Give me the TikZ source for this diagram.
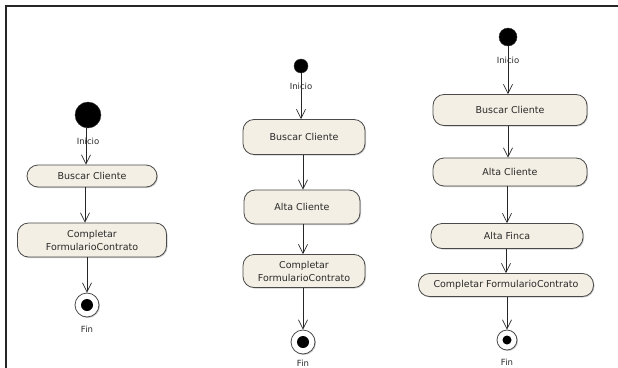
\documentclass[tikz,border=0pt]{standalone}
\usepackage{fontspec}
\setmainfont{DejaVu Sans}
\usetikzlibrary{arrows.meta,shadows}
\definecolor{boxfill}{HTML}{F3EFE4}
\definecolor{boxline}{HTML}{4A4A4A}
\definecolor{txt}{HTML}{2A2A2A}
\tikzset{
  act/.style={draw=boxline, fill=boxfill, line width=0.8pt, rounded corners=11pt,
    text=txt, font=\fontsize{9.5}{13}\selectfont, align=center, inner sep=0pt,
    drop shadow={shadow xshift=1pt, shadow yshift=-1pt, fill=gray!55, opacity=0.7}},
  startnode/.style={circle, fill=black, draw=black!80, inner sep=0pt},
  endouter/.style={circle, fill=white, draw=boxline, line width=0.8pt, inner sep=0pt,
    drop shadow={shadow xshift=1pt, shadow yshift=-1pt, fill=gray!55, opacity=0.7}},
  enddot/.style={circle, fill=black, inner sep=0pt, minimum size=12pt},
  lbl/.style={text=txt, font=\fontsize{8.5}{10}\selectfont, inner sep=0pt},
  flow/.style={draw=black!85, line width=0.7pt, -{Straight Barb[length=9pt,width=9pt]}},
  frame/.style={draw=black!85, line width=2pt}
}
\begin{document}
\begin{tikzpicture}[x=1pt,y=-1pt]
\useasboundingbox (0,0) rectangle (618,367);
\fill[white] (0,0) rectangle (618,367);
\draw[frame] (6,368) -- (6,6) -- (619,6);

% ---------- left column ----------
\node[startnode, minimum size=26pt] (s1) at (88,115) {};
\node[lbl] (i1) at (88,141) {Inicio};
\node[act, minimum width=130pt, minimum height=22pt] (b1) at (92,176) {Buscar Cliente};
\node[act, minimum width=149pt, minimum height=34pt] (c1) at (92,240) {Completar\\FormularioContrato};
\node[endouter, minimum size=24pt] (f1) at (87,305) {};
\node[enddot, minimum size=12pt] (d1) at (f1) {};
\node[lbl] (n1) at (87,329) {Fin};
\draw[flow] (s1.south -| 86,0) -- (b1.north -| 86,0);
\draw[flow] (b1.south -| 85,0) -- (c1.north -| 85,0);
\draw[flow] (c1.south -| 87,0) -- (f1.north);

% ---------- middle column ----------
\node[startnode, minimum size=14pt] (s2) at (301,66) {};
\node[lbl] (i2) at (301,86) {Inicio};
\node[act, minimum width=122pt, minimum height=35pt] (b2) at (304,137) {Buscar Cliente};
\node[act, minimum width=116pt, minimum height=34pt] (a2) at (302,207) {Alta Cliente};
\node[act, minimum width=122pt, minimum height=33pt] (c2) at (304,271) {Completar\\FormularioContrato};
\node[endouter, minimum size=24pt] (f2) at (303,342) {};
\node[enddot, minimum size=12pt] (d2) at (f2) {};
\node[lbl] (n2) at (303,363) {Fin};
\draw[flow] (s2.south) -- (s2 |- b2.north);
\draw[flow] (b2.south -| 303,0) -- (a2.north -| 303,0);
\draw[flow] (a2.south -| 303,0) -- (c2.north -| 303,0);
\draw[flow] (c2.south -| 303,0) -- (f2.north);

% ---------- right column ----------
\node[startnode, minimum size=18pt] (s3) at (508,37) {};
\node[lbl] (i3) at (508,60) {Inicio};
\node[act, minimum width=154pt, minimum height=31pt] (b3) at (510,110) {Buscar Cliente};
\node[act, minimum width=154pt, minimum height=28pt] (a3) at (510,172) {Alta Cliente};
\node[act, minimum width=152pt, minimum height=25pt] (af3) at (507,236) {Alta Finca};
\node[act, minimum width=175pt, minimum height=23pt] (c3) at (506,285) {Completar FormularioContrato};
\node[endouter, minimum size=20pt] (f3) at (507,340) {};
\node[enddot, minimum size=9pt] (d3) at (f3) {};
\node[lbl] (n3) at (507,362) {Fin};
\draw[flow] (s3.south) -- (s3 |- b3.north);
\draw[flow] (b3.south -| 508,0) -- (a3.north -| 508,0);
\draw[flow] (a3.south -| 507,0) -- (af3.north -| 507,0);
\draw[flow] (af3.south -| 506,0) -- (c3.north -| 506,0);
\draw[flow] (c3.south -| 507,0) -- (f3.north);
\end{tikzpicture}
\end{document}
